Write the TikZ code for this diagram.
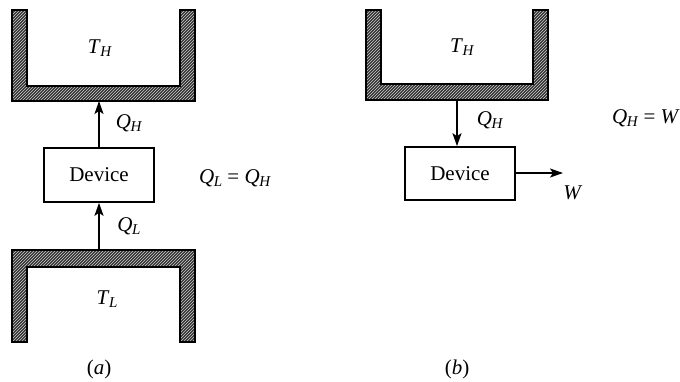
\documentclass[tikz,border=0pt]{standalone}
\usepackage{fontspec}
\setmainfont{Liberation Serif}
\usetikzlibrary{arrows.meta,patterns}
\newcommand{\qs}[2]{\textit{#1}\kern-0.02em\raisebox{-0.35ex}{\fontsize{15}{17}\selectfont\textit{#2}}}
\begin{document}
\begin{tikzpicture}[x=1pt,y=-1pt,
  hatch/.style={pattern=north east lines,pattern color=white!80!black},
  devbox/.style={draw,line width=1.6pt,minimum width=110pt,minimum height=54pt,inner sep=0pt,font=\fontsize{21}{25}\selectfont},
  lbl/.style={font=\fontsize{21}{25}\selectfont,inner sep=0pt},
  flow/.style={line width=1.8pt,-{Stealth[length=13pt,width=9pt,inset=3pt]}}]
\useasboundingbox (0,0) rectangle (680,381);
% ---- panel (a) ----
\fill[black!80] (12,10) -- (12,101) -- (195,101) -- (195,10) -- (180,10) -- (180,86) -- (27,86) -- (27,10) -- cycle;
\fill[hatch] (12,10) -- (12,101) -- (195,101) -- (195,10) -- (180,10) -- (180,86) -- (27,86) -- (27,10) -- cycle;
\draw[line width=1.4pt] (12,10) -- (12,101) -- (195,101) -- (195,10) -- (180,10) -- (180,86) -- (27,86) -- (27,10) -- cycle;
\fill[black!80] (12,342) -- (12,250) -- (195,250) -- (195,342) -- (180,342) -- (180,267) -- (27,267) -- (27,342) -- cycle;
\fill[hatch] (12,342) -- (12,250) -- (195,250) -- (195,342) -- (180,342) -- (180,267) -- (27,267) -- (27,342) -- cycle;
\draw[line width=1.4pt] (12,342) -- (12,250) -- (195,250) -- (195,342) -- (180,342) -- (180,267) -- (27,267) -- (27,342) -- cycle;
\coordinate (hotA) at (99,101);
\coordinate (coldA) at (99,250);
\node[devbox] (devA) at (99,175) {Device};
\draw[flow] (devA.north) -- (hotA);
\draw[flow] (coldA) -- (devA.south);
\node[lbl] (thA) at (100,48) {\qs{T}{H}};
\node[lbl] (qhA) at (129,123) {\qs{Q}{H}};
\node[lbl] (qlA) at (129,226) {\qs{Q}{L}};
\node[lbl] (tlA) at (107,299) {\qs{T}{L}};
\node[lbl] (eqA) at (235,178) {\qs{Q}{L} = \qs{Q}{H}};
\node[lbl] (capA) at (99,369) {(\textit{a})};
% ---- panel (b) ----
\fill[black!80] (366,10) -- (366,100) -- (548,100) -- (548,10) -- (533,10) -- (533,84) -- (381,84) -- (381,10) -- cycle;
\fill[hatch] (366,10) -- (366,100) -- (548,100) -- (548,10) -- (533,10) -- (533,84) -- (381,84) -- (381,10) -- cycle;
\draw[line width=1.4pt] (366,10) -- (366,100) -- (548,100) -- (548,10) -- (533,10) -- (533,84) -- (381,84) -- (381,10) -- cycle;
\coordinate (hotB) at (457,100);
\node[devbox,minimum height=53pt] (devB) at (460,173.5) {Device};
\coordinate (wEnd) at (563,173);
\draw[flow] (hotB) -- (hotB |- devB.north);
\draw[flow] (devB.east |- wEnd) -- (wEnd);
\node[lbl] (thB) at (462,47) {\qs{T}{H}};
\node[lbl] (qhB) at (490,120) {\qs{Q}{H}};
\node[lbl] (wB) at (573,193) {\textit{W}};
\node[lbl,anchor=east] (eqB) at (680,118) {\qs{Q}{H} = \textit{W}};
\node[lbl] (capB) at (457,369) {(\textit{b})};
\end{tikzpicture}
\end{document}
